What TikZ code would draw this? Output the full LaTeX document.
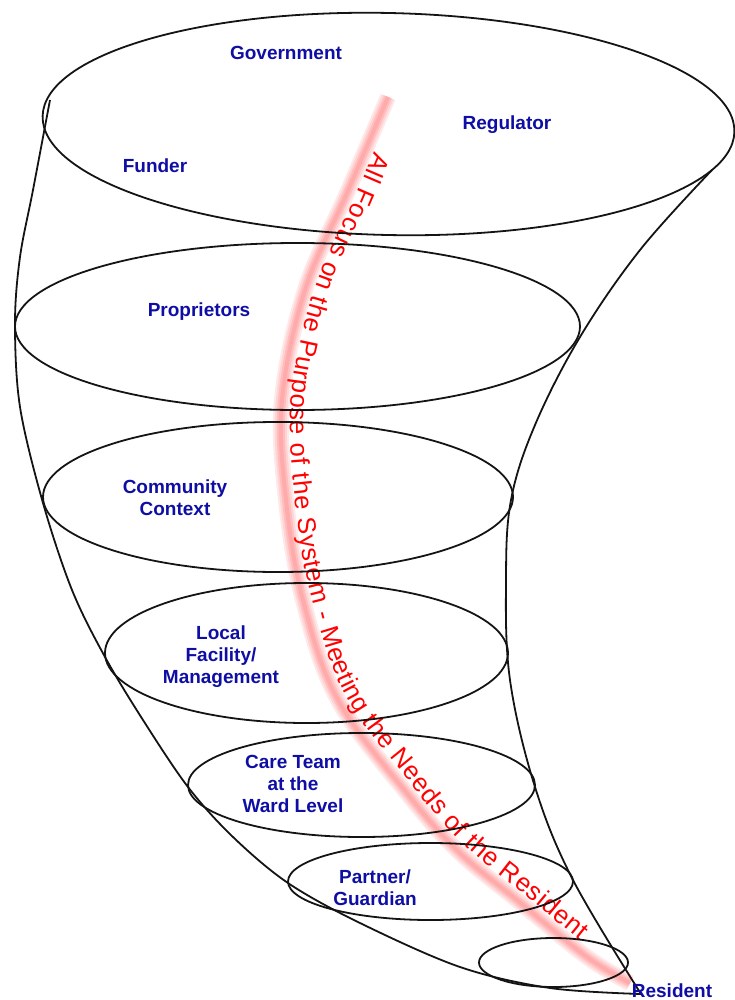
\documentclass[tikz,border=0pt]{standalone}
\usepackage{fontspec}
\setmainfont{Liberation Sans}
\usetikzlibrary{decorations.text}
\definecolor{labelblue}{RGB}{14,14,165}
\definecolor{inkline}{RGB}{20,20,20}
\begin{document}
\begin{tikzpicture}[x=1pt,y=-1pt,
  outline/.style={draw=inkline, line width=1.8pt},
  lbl/.style={text=labelblue, font=\fontsize{19}{22}\selectfont\bfseries, align=center, inner sep=0pt}]
\useasboundingbox (0,0) rectangle (734,1000);

% soft red band running down the funnel
\foreach \w/\c in {16/9, 12/17, 8/26, 4/33}
  \draw[line width=\w pt, red!\c, line cap=butt]
    plot[smooth, tension=0.6] coordinates {(388,97) (347,193) (305,290) (282,400) (286,500) (303,600) (338,700) (410,797) (460,853) (517,900) (587,957) (630,983)};

% caption set along the band
\path[decorate, decoration={text along path, raise=9pt,
    text align={left indent=55pt, right indent=66pt, fit to path},
    text={|\fontsize{25.5}{26}\selectfont\color{red}|All Focus on the Purpose of the System - Meeting the Needs of the Resident}}]
  plot[smooth, tension=0.6] coordinates {(388,97) (347,193) (305,290) (282,400) (286,500) (303,600) (338,700) (410,797) (460,853) (517,900) (587,957) (630,983)};

% funnel outline
\draw[outline] plot[smooth, tension=0.55] coordinates {(50,100) (33,190) (20,257) (15,323) (20,407) (43,503) (72,590) (105,657) (143,720) (188,787) (233,837) (288,883) (360,923) (460,967) (550,988) (641,994)};
\draw[outline] plot[smooth, tension=0.6] coordinates {(712,170) (640,250) (580,337) (535,425) (511,500) (506,580) (510,680) (535,787) (573,880) (641,994)};

% the rings, from the widest to the narrowest
\draw[outline, rotate around={-1.3:(388.5,124)}] (388.5,124) ellipse [x radius=346pt, y radius=111pt];
\draw[outline] (297.5,326.5) ellipse [x radius=282.5pt, y radius=83.5pt];
\draw[outline] (278,497) ellipse [x radius=235pt, y radius=75pt];
\draw[outline] (306.5,653) ellipse [x radius=201.5pt, y radius=70pt];
\draw[outline] (361.5,785) ellipse [x radius=173.5pt, y radius=52pt];
\draw[outline] (430.5,881.5) ellipse [x radius=142.5pt, y radius=38.5pt];
\draw[outline] (553.5,962.5) ellipse [x radius=74.5pt, y radius=24.5pt];

% labels
\node[lbl] (gov) at (286,53) {Government};
\node[lbl] (reg) at (507,125) {Regulator};
\node[lbl] (fund) at (155,166) {Funder};
\node[lbl] (prop) at (199,312) {Proprietors};
\node[lbl] (comm) at (175,498) {Community\\Context};
\node[lbl] (local) at (221,657) {Local\\Facility/\\Management};
\node[lbl] (care) at (293,784) {Care Team\\at the\\Ward Level};
\node[lbl] (partner) at (375,888) {Partner/\\Guardian};
\node[lbl] (res) at (672,991) {Resident};
\end{tikzpicture}
\end{document}
